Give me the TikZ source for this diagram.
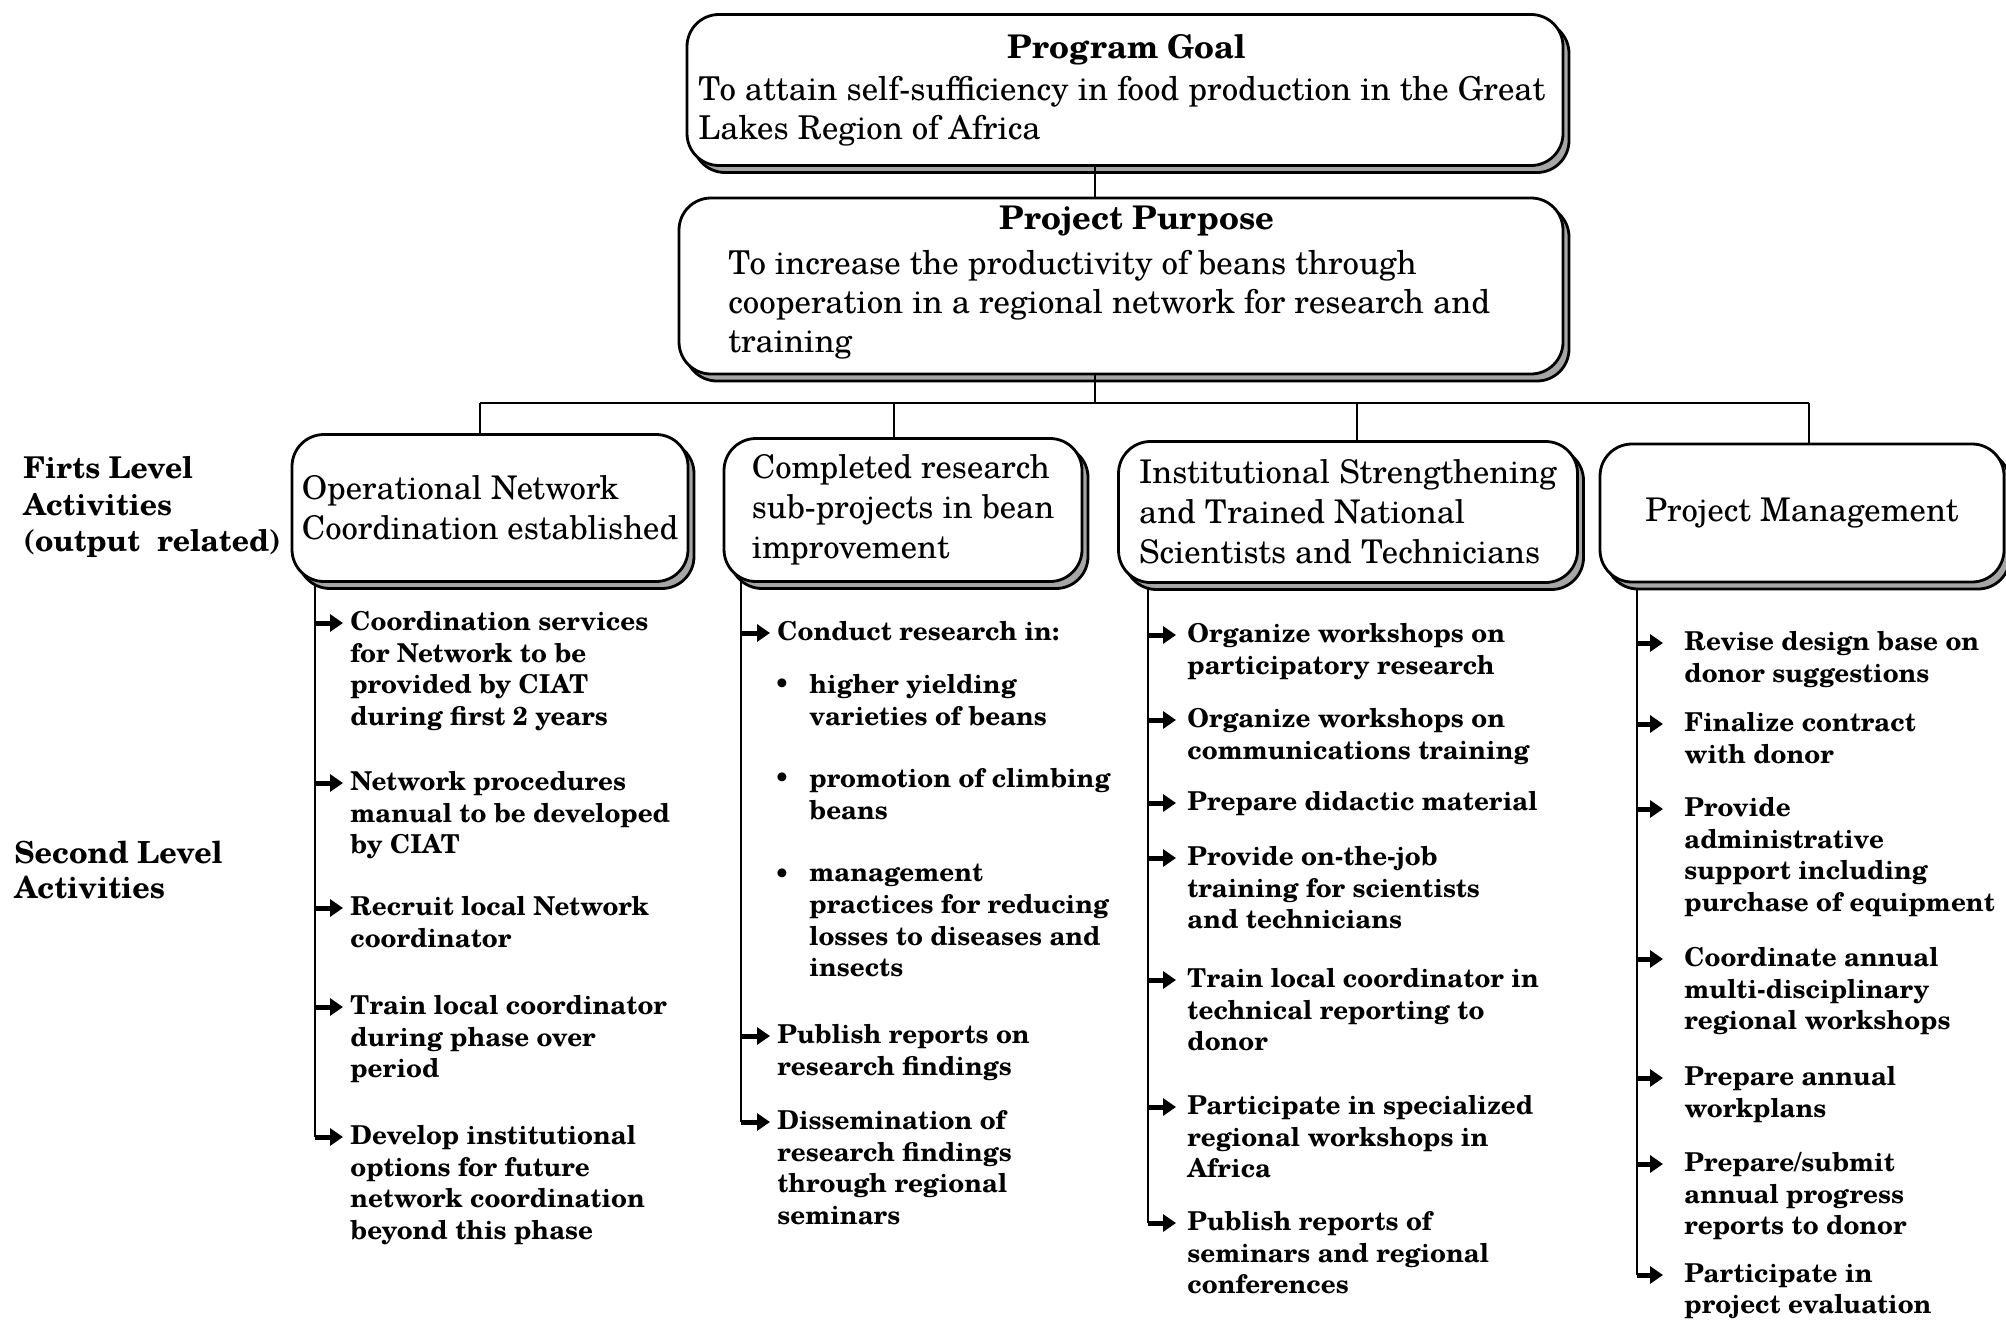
\documentclass[tikz,border=0pt]{standalone}
\usepackage{fontspec}
\setmainfont{texgyreschola}[Extension=.otf, UprightFont=*-regular, BoldFont=*-bold, ItalicFont=*-italic, BoldItalicFont=*-bolditalic]
\usetikzlibrary{shadows, arrows.meta}

\newcommand\actitem[6]{% name, line coordinate, x, y, gap, text
  \node[itm] (#1) at (#3,#4) {#6};
  \coordinate (#1-t) at ([shift={(-#5,12)}]#1.north west);
  \draw[arr] (#1-t -| #2) -- (#1-t);}

\begin{document}
\begin{tikzpicture}[x=0.5pt, y=-0.5pt,
  shbox/.style={draw, line width=1.4pt, rounded corners=16pt, fill=white, inner sep=0pt,
    general shadow={shadow xshift=3pt, shadow yshift=-3.5pt, draw=black, line width=1.4pt, fill=black!35}},
  boxtxt/.style={font=\fontsize{16.3}{20}\selectfont, align=left},
  toptxt/.style={font=\fontsize{16.4}{19.5}\selectfont, align=left, inner sep=0pt},
  toptitle/.style={font=\bfseries\fontsize{16.3}{19.5}\selectfont, inner sep=0pt},
  itm/.style={anchor=north west, yshift=6pt, inner sep=0pt, align=left, font=\bfseries\fontsize{13}{15.8}\selectfont},
  bul/.style={inner sep=0pt, font=\bfseries\fontsize{13}{15.8}\selectfont},
  side/.style={anchor=west, inner sep=0pt, align=left, font=\bfseries\fontsize{15}{18.2}\selectfont},
  conn/.style={line width=1.2pt},
  arr/.style={line width=2.5pt, -{Triangle[length=6.5pt, width=8.5pt]}}
]
\useasboundingbox (0,0) rectangle (2006,1322);

% ---- coordinates of connector skeleton
\coordinate (gp) at (1095,0);
\coordinate (bus) at (1095,403);
\coordinate (d1) at (480,403);
\coordinate (d2) at (894,403);
\coordinate (d3) at (1357,403);
\coordinate (d4) at (1809,403);
\coordinate (v1) at (315,580);
\coordinate (v2) at (741,580);
\coordinate (v3) at (1148,580);
\coordinate (v4) at (1637,580);

% ---- side labels
\node[side] (lab1) at (23,507) {Firts Level\\Activities\\(output~~related)};
\node[side, font=\bfseries\fontsize{15.2}{17.3}\selectfont] (lab2) at (14,870) {Second Level\\Activities};

% ---- column 1
\actitem{c1a}{v1}{350}{623}{7}{Coordination services\\for Network to be\\provided by CIAT\\during first 2 years}
\actitem{c1b}{v1}{350}{783}{7}{Network procedures\\manual to be developed\\by CIAT}
\actitem{c1c}{v1}{350}{908}{7}{Recruit local Network\\coordinator}
\actitem{c1d}{v1}{350}{1007}{7}{Train local coordinator\\during phase over\\period}
\actitem{c1e}{v1}{350}{1137}{7}{Develop institutional\\options for future\\network coordination\\beyond this phase}
\draw[conn] (v1) -- (v1 |- c1e-t);

% ---- column 2
\actitem{c2a}{v2}{777}{633}{7}{Conduct research in:}
\node[bul] (b1d) at (782,686) {•};
\node[itm] (b1) at (809,686) {higher yielding\\varieties of beans};
\node[bul] (b2d) at (782,780) {•};
\node[itm] (b2) at (809,780) {promotion of climbing\\beans};
\node[bul] (b3d) at (782,876) {•};
\node[itm] (b3) at (809,876) {management\\practices for reducing\\losses to diseases and\\insects};
\actitem{c2b}{v2}{777}{1036}{7}{Publish reports on\\research findings}
\actitem{c2c}{v2}{777}{1122}{7}{Dissemination of\\research findings\\through regional\\seminars}
\draw[conn] (v2) -- (v2 |- c2c-t);

% ---- column 3
\actitem{c3a}{v3}{1187}{635}{11}{Organize workshops on\\participatory research}
\actitem{c3b}{v3}{1187}{720}{11}{Organize workshops on\\communications training}
\actitem{c3c}{v3}{1187}{803}{11}{Prepare didactic material}
\actitem{c3d}{v3}{1187}{858}{11}{Provide on-the-job\\training for scientists\\and technicians}
\actitem{c3e}{v3}{1187}{980}{11}{Train local coordinator in\\technical reporting to\\donor}
\actitem{c3f}{v3}{1187}{1107}{11}{Participate in specialized\\regional workshops in\\Africa}
\actitem{c3g}{v3}{1187}{1223}{11}{Publish reports of\\seminars and regional\\conferences}
\draw[conn] (v3) -- (v3 |- c3g-t);

% ---- column 4
\actitem{c4a}{v4}{1684}{643}{21}{Revise design base on\\donor suggestions}
\actitem{c4b}{v4}{1684}{724}{21}{Finalize contract\\with donor}
\actitem{c4c}{v4}{1684}{809}{21}{Provide\\administrative\\support including\\purchase of equipment}
\actitem{c4d}{v4}{1684}{959}{21}{Coordinate annual\\multi-disciplinary\\regional workshops}
\actitem{c4e}{v4}{1684}{1078}{21}{Prepare annual\\workplans}
\actitem{c4f}{v4}{1684}{1164}{21}{Prepare/submit\\annual progress\\reports to donor}
\actitem{c4g}{v4}{1684}{1275}{21}{Participate in\\project evaluation}
\draw[conn] (v4) -- (v4 |- c4g-t);

% ---- top boxes
\node[shbox, minimum width=438pt, minimum height=75.5pt] (goal) at (1125,90) {};
\node[shbox, minimum width=442pt, minimum height=88pt] (purpose) at (1121,286) {};
\node[toptitle] (goalt) at (1127,50) {Program Goal};
\node[toptxt, anchor=west] (goalx) at (698,111) {To attain self-sufficiency in food production in the Great\\Lakes Region of Africa};
\node[toptitle] (purpt) at (1137,221) {Project Purpose};
\node[toptxt, anchor=west] (purpx) at (728,305) {To increase the productivity of beans through\\cooperation in a regional network for research and\\training};

% ---- connectors among top levels
\draw[conn] (goal.south -| gp) -- (purpose.north -| gp);
\draw[conn] (purpose.south -| gp) -- (bus);
\draw[conn] (d1) -- (d4);

% ---- first-level boxes
\node[shbox, boxtxt, minimum width=198pt, minimum height=73.5pt] (box1) at (490,508) {Operational Network\\Coordination established};
\node[shbox, boxtxt, minimum width=179pt, minimum height=71.5pt] (box2) at (903,510) {Completed research\\sub-projects in bean\\improvement};
\node[shbox, boxtxt, minimum width=229.5pt, minimum height=70.5pt] (box3) at (1348,512) {Institutional Strengthening\\and Trained National\\Scientists and Technicians};
\node[shbox, boxtxt, minimum width=202pt, minimum height=69pt] (box4) at (1802,513) {Project Management};

\draw[conn] (d1) -- (d1 |- box1.north);
\draw[conn] (d2) -- (d2 |- box2.north);
\draw[conn] (d3) -- (d3 |- box3.north);
\draw[conn] (d4) -- (d4 |- box4.north);
\end{tikzpicture}
\end{document}
